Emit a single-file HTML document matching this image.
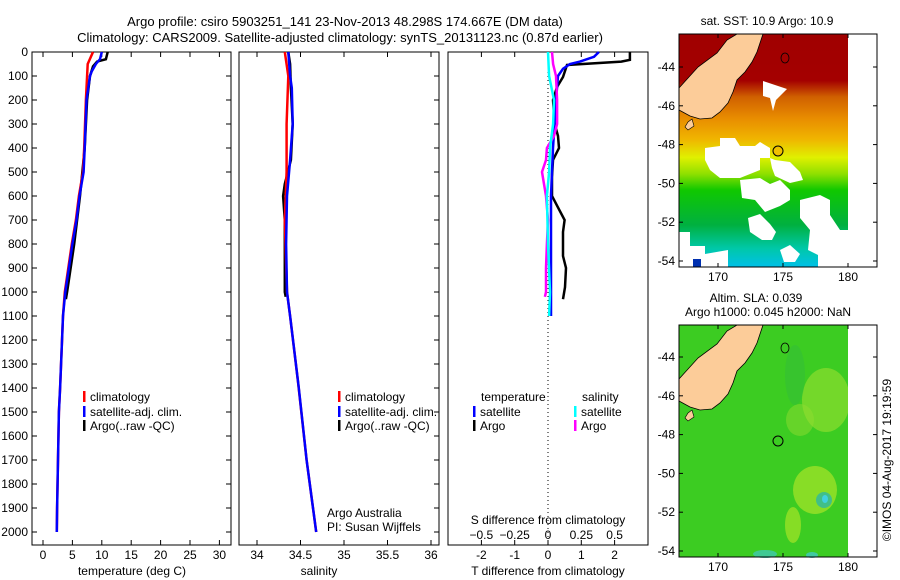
<!DOCTYPE html>
<html><head><meta charset="utf-8"><style>
html,body{margin:0;padding:0;background:#fff}
svg{display:block;font-family:"Liberation Sans",sans-serif}
text{font-size:12px;fill:#000}
</style></head><body>
<svg id="fig" width="900" height="580" viewBox="0 0 900 580">
<defs>
<linearGradient id="sstg" x1="0" y1="0" x2="0" y2="1">
<stop offset="0" stop-color="#a00000"/><stop offset="0.2" stop-color="#a40000"/>
<stop offset="0.27" stop-color="#d06000"/><stop offset="0.36" stop-color="#e88c00"/>
<stop offset="0.45" stop-color="#f0b400"/><stop offset="0.53" stop-color="#e0f000"/>
<stop offset="0.6" stop-color="#90e000"/><stop offset="0.67" stop-color="#10c800"/>
<stop offset="0.82" stop-color="#00b040"/><stop offset="0.92" stop-color="#00c8a8"/>
<stop offset="1" stop-color="#00c0e8"/></linearGradient>
</defs>
<text x="345" y="26" text-anchor="middle" style="font-size:13px">Argo profile: csiro 5903251_141 23-Nov-2013 48.298S 174.667E (DM data)</text>
<text x="340" y="42" text-anchor="middle" style="font-size:13px">Climatology: CARS2009. Satellite-adjusted climatology: synTS_20131123.nc (0.87d earlier)</text>

<g id="p1"></g>
<g id="p2"></g>
<g id="p3"></g>

<!-- SST map -->
<g>
<text x="767" y="25" text-anchor="middle">sat. SST: 10.9 Argo: 10.9</text>
<rect x="679" y="34" width="169" height="233" fill="url(#sstg)"/>
<g fill="#fff">
<polygon points="763,81 787,89 776,100 773,111 770,98 763,96"/>
<polygon points="705,148 720,146 720,138 735,138 740,146 755,146 760,142 770,148 770,158 760,158 760,170 740,178 720,178 710,170 705,160"/>
<polygon points="770,158 775,160 790,162 800,172 803,180 790,183 775,176 772,168"/>
<polygon points="740,180 760,178 770,184 780,180 790,190 790,200 780,206 765,212 755,200 742,198"/>
<polygon points="679,232 690,232 690,246 705,246 705,254 728,250 728,267 679,267"/>
<polygon points="748,218 760,214 770,224 776,232 772,240 762,240 750,232"/>
<polygon points="800,200 820,195 830,200 830,215 840,230 848,230 848,267 818,267 818,255 808,250 810,230 800,218"/>
<polygon points="780,250 790,245 800,254 795,262 784,262"/>
</g>
<polygon points="679,88 698,67 717,53 727,40 737,34 763,34 757,52 752,62 745,72 737,80 733,92 728,103 720,112 712,118 700,119 690,116 679,110" fill="#fccc99" stroke="#000" stroke-width="0.8"/>
<polygon points="688,122 692,119 694,126 688,130 685,127" fill="#fccc99" stroke="#000" stroke-width="0.6"/>
<rect x="693" y="259" width="8" height="8" fill="#0030b0"/>
<circle cx="778" cy="151" r="5" fill="#f0c000" stroke="#000" stroke-width="1"/>
<ellipse cx="785" cy="58" rx="4" ry="5" fill="none" stroke="#000" stroke-width="0.8"/>
<rect x="848" y="34" width="29" height="233" fill="#fff"/>
<rect x="679" y="34" width="198" height="233" fill="none" stroke="#000" stroke-width="1"/>
<g id="mapax1"></g>
</g>

<!-- SLA map -->
<g>
<text x="756" y="302" text-anchor="middle">Altim. SLA: 0.039</text>
<text x="768" y="316" text-anchor="middle">Argo h1000: 0.045 h2000: NaN</text>
<rect x="679" y="325" width="169" height="232" fill="#3ccc22"/>
<g>
<ellipse cx="826" cy="400" rx="24" ry="32" fill="#9ae030" opacity="0.6"/>
<ellipse cx="800" cy="420" rx="14" ry="16" fill="#90dc30" opacity="0.5"/>
<ellipse cx="815" cy="490" rx="22" ry="24" fill="#a8e428" opacity="0.7"/>
<ellipse cx="793" cy="525" rx="8" ry="18" fill="#b8e828" opacity="0.6"/>
<ellipse cx="824" cy="500" rx="8" ry="8" fill="#30b8a0" opacity="0.8"/>
<ellipse cx="825" cy="499" rx="3" ry="4" fill="#40d0e0"/>
<ellipse cx="765" cy="554" rx="12" ry="4" fill="#40c8b0" opacity="0.8"/>
<ellipse cx="812" cy="555" rx="6" ry="3" fill="#40c8c0" opacity="0.8"/>
<ellipse cx="795" cy="375" rx="10" ry="30" fill="#30b840" opacity="0.4"/>
</g>
<polygon points="679,379 698,358 717,344 727,331 737,325 763,325 757,343 752,353 745,363 737,371 733,383 728,394 720,403 712,409 700,410 690,407 679,401" fill="#fccc99" stroke="#000" stroke-width="0.8"/>
<polygon points="688,413 692,410 694,417 688,421 685,418" fill="#fccc99" stroke="#000" stroke-width="0.6"/>
<circle cx="778" cy="441" r="5" fill="none" stroke="#000" stroke-width="1"/>
<ellipse cx="785" cy="348" rx="4" ry="5" fill="none" stroke="#000" stroke-width="0.8"/>
<rect x="848" y="325" width="29" height="232" fill="#fff"/>
<rect x="679" y="325" width="198" height="232" fill="none" stroke="#000" stroke-width="1"/>
<g id="mapax2"></g>
</g>
<text transform="translate(891,460) rotate(-90)" text-anchor="middle">©IMOS 04-Aug-2017 19:19:59</text>
</svg>
<script>
// ---- data ----
const tClimDepth = [0,50,100,200,400,500,600,700,800,900,1000,1100,1400,1500,1700,1900,2000];
const tClim      = [8.5,7.6,7.5,7.3,7.0,6.8,6.1,5.6,4.9,4.3,3.7,3.4,2.9,2.7,2.55,2.4,2.35];
const tSatDepth  = [0,30,50,80,100,200,400,500,600,700,800,900,1000,1100,1400,1500,1700,1900,2000];
const tSat       = [10.0,9.7,9.0,8.3,8.0,7.4,7.1,6.9,6.2,5.7,5.0,4.4,3.8,3.4,2.9,2.7,2.55,2.4,2.35];
const tArgoDepth = [0,30,40,60,100,200,400,600,800,1000,1030];
const tArgo      = [11.0,10.7,9.2,8.5,8.0,7.5,7.1,6.3,5.3,4.1,3.9];

const sClimDepth = [0,100,300,500,700,1000,1100,1370,1700,2000];
const sClim      = [34.32,34.36,34.34,34.34,34.32,34.345,34.38,34.47,34.57,34.68];
const sSatDepth  = [0,100,150,300,450,600,800,1000,1100,1400,1700,2000];
const sSat       = [34.36,34.38,34.40,34.41,34.38,34.345,34.335,34.345,34.38,34.48,34.57,34.68];
const sArgoDepth = [0,50,150,300,450,550,600,700,900,1000,1020];
const sArgo      = [34.36,34.38,34.39,34.41,34.39,34.32,34.30,34.32,34.32,34.32,34.33];

const dTArgoDepth = [0,33,40,54,104,146,200,300,350,400,450,520,600,640,700,750,850,900,980,1030];
const dTArgo      = [2.46,2.46,2.2,0.57,0.45,0.27,0.15,0.2,0.3,0.33,0.15,0.12,0.12,0.27,0.5,0.45,0.45,0.54,0.51,0.45];
const dTSatDepth  = [0,20,40,50,70,100,200,400,600,800,1000,1100];
const dTSat       = [1.53,1.38,0.96,0.66,0.45,0.3,0.24,0.15,0.09,0.09,0.09,0.09];
const dSSatDepth  = [0,100,200,300,400,500,600,800,1000,1100];
const dSSat       = [0,0.008,0.045,0.038,0.015,0.008,-0.008,0,0.015,0.008];
const dSArgoDepth = [0,50,100,200,300,350,400,450,500,550,600,700,800,900,1000,1020];
const dSArgo      = [0.03,0.038,0.06,0.068,0.068,0.045,-0.008,-0.015,-0.045,-0.03,-0.015,0,-0.008,-0.015,-0.015,-0.023];

const tTicks = [0,5,10,15,20,25,30];
const sTicks = [34,34.5,35,35.5,36];
const dTTicks = [-2,-1,0,1,2];
const dSTicks = [-0.5,-0.25,0,0.25,0.5];
const depthTicks = [0,100,200,300,400,500,600,700,800,900,1000,1100,1200,1300,1400,1500,1600,1700,1800,1900,2000];
const lonTicks = [170,175,180];
const latTicks = [-44,-46,-48,-50,-52,-54];

// ---- scales ----
const TOP=52, BOT=545;
const yD = d => TOP + d*0.24;
const xT = v => 43 + v*5.88;
const xS = v => 257 + (v-34)*87;
const xDT = v => 548 + v*33.3;
const xDS = v => 548 + v*133.3;
const NS='http://www.w3.org/2000/svg';
function el(parent, tag, attrs){const e=document.createElementNS(NS,tag);for(const k in attrs)e.setAttribute(k,attrs[k]);parent.appendChild(e);return e;}
function txt(parent,x,y,s,anchor){const t=el(parent,'text',{x:x,y:y,'text-anchor':anchor||'start'});t.textContent=s;return t;}
function line(parent,depths,vals,xf,color,name){
  const pts=depths.map((d,i)=>xf(vals[i]).toFixed(1)+','+yD(d).toFixed(1)).join(' ');
  const p=el(parent,'polyline',{points:pts,fill:'none',stroke:color,'stroke-width':2.5});
  
  
}
function frame(g,x0,x1){el(g,'rect',{x:x0,y:TOP,width:x1-x0,height:BOT-TOP,fill:'none',stroke:'#000','stroke-width':1});}
function xticks(g,ticks,xf,labY,fmt){ticks.forEach(v=>{const x=xf(v);
  el(g,'line',{x1:x,y1:TOP,x2:x,y2:TOP+5,stroke:'#000'});el(g,'line',{x1:x,y1:BOT,x2:x,y2:BOT-5,stroke:'#000'});
  if(labY){const t=txt(g,x,labY,fmt?fmt(v):String(v),'middle');}});}
function legendEntry(g,x,y,color,label){el(g,'rect',{x:x,y:y-10,width:2.5,height:11,fill:color});const t=txt(g,x+7,y,label);
  }

// panel 1
const p1=document.getElementById('p1');
frame(p1,32,231);
xticks(p1,tTicks,xT,559);
depthTicks.forEach(d=>{const y=yD(d);el(p1,'line',{x1:32,y1:y,x2:37,y2:y,stroke:'#000'});el(p1,'line',{x1:231,y1:y,x2:226,y2:y,stroke:'#000'});
  const t=txt(p1,28,y+4,String(d),'end');});
line(p1,tArgoDepth,tArgo,xT,'#000','temperature-argo-line');
line(p1,tClimDepth,tClim,xT,'#ff0000','temperature-climatology-line');
line(p1,tSatDepth,tSat,xT,'#0000ff','temperature-satellite-line');
legendEntry(p1,83,401,'#ff0000','climatology');
legendEntry(p1,83,416,'#0000ff','satellite-adj. clim.');
legendEntry(p1,83,430,'#000','Argo(..raw -QC)');
const xl1=txt(p1,132,575,'temperature (deg C)','middle');

// panel 2
const p2=document.getElementById('p2');
frame(p2,239,439);
xticks(p2,sTicks,xS,559);
depthTicks.forEach(d=>{const y=yD(d);el(p2,'line',{x1:439,y1:y,x2:434,y2:y,stroke:'#000'});});
line(p2,sArgoDepth,sArgo,xS,'#000','salinity-argo-line');
line(p2,sClimDepth,sClim,xS,'#ff0000','salinity-climatology-line');
line(p2,sSatDepth,sSat,xS,'#0000ff','salinity-satellite-line');
legendEntry(p2,338,401,'#ff0000','climatology');
legendEntry(p2,338,416,'#0000ff','satellite-adj. clim.');
legendEntry(p2,338,430,'#000','Argo(..raw -QC)');
txt(p2,327,517,'Argo Australia');
txt(p2,327,531,'PI: Susan Wijffels');
const xl2=txt(p2,319,575,'salinity','middle');

// panel 3
const p3=document.getElementById('p3');
frame(p3,448,648);
xticks(p3,dTTicks,xDT,559);
dSTicks.forEach(v=>{const t=txt(p3,xDS(v),539,String(v).replace('-','\u2212'),'middle');});
el(p3,'line',{x1:548,y1:TOP,x2:548,y2:BOT,stroke:'#000','stroke-dasharray':'1,3'});
line(p3,dTArgoDepth,dTArgo,xDT,'#000','t-diff-argo-line');
line(p3,dTSatDepth,dTSat,xDT,'#0000ff','t-diff-satellite-line');
line(p3,dSArgoDepth,dSArgo,xDS,'#ff00ff','s-diff-argo-line');
line(p3,dSSatDepth,dSSat,xDS,'#00ffff','s-diff-satellite-line');
txt(p3,481,401,'temperature');txt(p3,582,401,'salinity');
legendEntry(p3,473,416,'#0000ff','satellite');
legendEntry(p3,473,430,'#000','Argo');
legendEntry(p3,574,416,'#00ffff','satellite');
legendEntry(p3,574,430,'#ff00ff','Argo');
txt(p3,548,524,'S difference from climatology','middle');
const xl3=txt(p3,548,575,'T difference from climatology','middle');

// map axes
function mapAxes(id,top,bot,lat44){
  const g=document.getElementById(id);
  lonTicks.forEach(l=>{const x=718+(l-170)*13;el(g,'line',{x1:x,y1:top,x2:x,y2:top+4,stroke:'#000'});el(g,'line',{x1:x,y1:bot,x2:x,y2:bot-4,stroke:'#000'});
    const t=txt(g,x,bot+14,String(l),'middle');});
  latTicks.forEach(l=>{const y=lat44+(-44-l)*19.4;el(g,'line',{x1:679,y1:y,x2:683,y2:y,stroke:'#000'});el(g,'line',{x1:877,y1:y,x2:873,y2:y,stroke:'#000'});
    const t=txt(g,675,y+4,String(l),'end');});
}
mapAxes('mapax1',34,267,67);
mapAxes('mapax2',325,557,357);
</script>
</body></html>
